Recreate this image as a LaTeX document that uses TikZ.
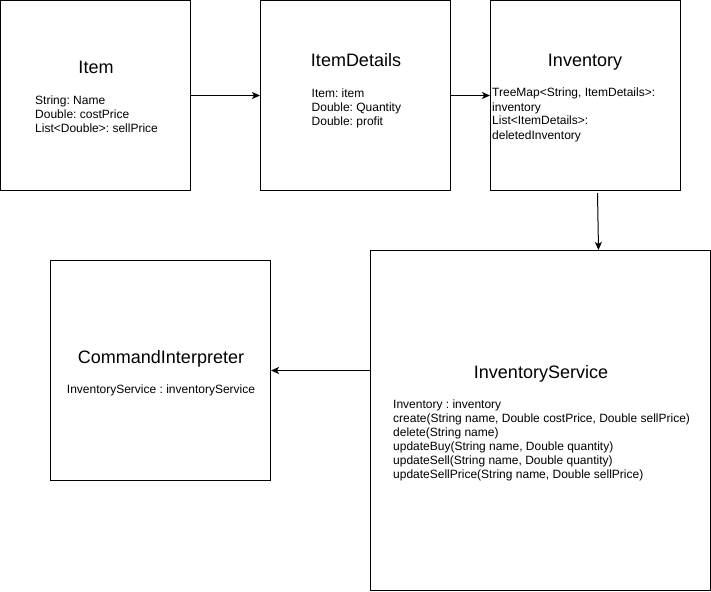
\documentclass[tikz,border=0pt]{standalone}
\usepackage{fontspec}
\setmainfont{Liberation Sans}
\frenchspacing
\usetikzlibrary{arrows.meta}
\tikzset{classbox/.style={draw, line width=1pt, minimum width=#1, minimum height=#1, inner sep=0pt},
         classname/.style={font=\fontsize{18}{21}\selectfont, anchor=base, inner sep=0pt},
         members/.style={font=\fontsize{12}{14}\selectfont, align=left, anchor=base west, inner sep=0pt},
         link/.style={-{Stealth[length=8pt,width=7pt,inset=2pt]}, line width=1pt}}

\begin{document}
\begin{tikzpicture}[x=1pt,y=-1pt]
\useasboundingbox (0,0) rectangle (711,591);
% classes
\node[classbox=190] (item) at (95.5,95.5) {};
\node[classbox=190] (details) at (355.5,95.5) {};
\node[classbox=190] (inventory) at (585.5,95.5) {};
\node[classbox=340] (service) at (540.5,420.5) {};
\node[classbox=220] (command) at (160.5,370.5) {};
% names and members (members sit on their last line)
\node[classname] (itemname) at (96,74) {Item};
\node[members] (itemmembers) at (35,132) {String: Name\\Double: costPrice\\List<Double>: sellPrice};
\node[classname] (detailsname) at (356,67) {ItemDetails};
\node[members] (detailsmembers) at (311.5,125) {Item: item\\Double: Quantity\\Double: profit};
\node[classname] (inventoryname) at (585,67) {Inventory};
\node[members] (inventorymembers) at (492,139) {TreeMap<String, ItemDetails>:\\inventory\\List<ItemDetails>:\\deletedInventory};
\node[classname] (servicename) at (541,378) {InventoryService};
\node[members] (servicemembers) at (393,478) {Inventory : inventory\\create(String name, Double costPrice, Double sellPrice)\\delete(String name)\\updateBuy(String name, Double quantity)\\updateSell(String name, Double quantity)\\updateSellPrice(String name, Double sellPrice)};
\node[classname] (commandname) at (161,363) {CommandInterpreter};
\node[members, anchor=base, align=center] (commandmembers) at (161,393) {InventoryService : inventoryService};
% links
\draw[link] (item) -- (details);
\draw[link] (details) -- (inventory);
\draw[link] ([shift={(12,2)}]inventory.south) -- ([xshift=58]service.north);
\draw[link] (service.west |- command.east) -- (command.east);
\end{tikzpicture}
\end{document}
